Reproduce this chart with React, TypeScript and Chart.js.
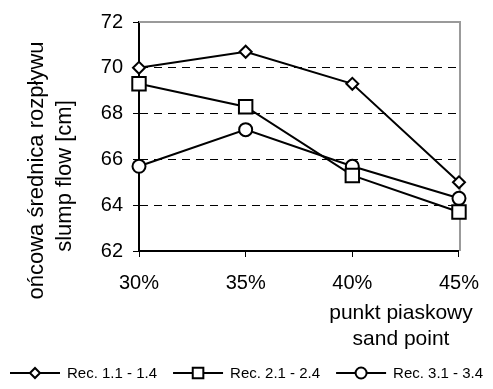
import React, { useEffect, useRef } from "react";
import { Chart, registerables } from "chart.js";

Chart.register(...registerables);

const categories = ["30%", "35%", "40%", "45%"];
const seriesNames = ["Rec. 1.1 - 1.4", "Rec. 2.1 - 2.4", "Rec. 3.1 - 3.4"];
const rec1 = [70.0, 70.7, 69.3, 65.0];
const rec2 = [69.3, 68.3, 65.3, 63.7];
const rec3 = [65.7, 67.3, 65.7, 64.3];
const yTicks = [62, 64, 66, 68, 70, 72];
const yTitle = ["końcowa średnica rozpływu", "slump flow [cm]"];
const xTitle = ["punkt piaskowy", "sand point"];

const FONT = "'Liberation Sans', Arial, sans-serif";

function drawMarker(ctx: CanvasRenderingContext2D, style: string, r: number, x: number, y: number) {
  ctx.beginPath();
  if (style === "rectRot") {
    ctx.moveTo(x - r, y);
    ctx.lineTo(x, y - r);
    ctx.lineTo(x + r, y);
    ctx.lineTo(x, y + r);
    ctx.closePath();
  } else if (style === "rect") {
    const s = r * Math.SQRT1_2;
    ctx.rect(x - s, y - s, 2 * s, 2 * s);
  } else {
    ctx.arc(x, y, r, 0, Math.PI * 2);
  }
  ctx.fill();
  ctx.stroke();
}

const decorPlugin = {
  id: "decor",
  beforeDatasetsDraw(chart: any) {
    const { ctx, chartArea } = chart;
    ctx.save();
    ctx.strokeStyle = "#9a9a9a";
    ctx.lineWidth = 2;
    ctx.beginPath();
    ctx.moveTo(chartArea.left, chartArea.top);
    ctx.lineTo(chartArea.right + 1, chartArea.top);
    ctx.lineTo(chartArea.right + 1, chartArea.bottom);
    ctx.stroke();
    ctx.restore();
  },
  afterDraw(chart: any) {
    const { ctx } = chart;
    // y title
    ctx.save();
    ctx.beginPath();
    ctx.rect(0, 0, 120, 299);
    ctx.clip();
    ctx.fillStyle = "#000";
    ctx.font = `22px ${FONT}`;
    ctx.textAlign = "center";
    ctx.textBaseline = "alphabetic";
    ctx.translate(43, 176);
    ctx.rotate(-Math.PI / 2);
    ctx.fillText(yTitle[0], 0, 0);
    ctx.fillText(yTitle[1], 0, 28);
    ctx.restore();

    // x title
    ctx.save();
    ctx.fillStyle = "#000";
    ctx.font = `21px ${FONT}`;
    ctx.textAlign = "center";
    ctx.textBaseline = "alphabetic";
    ctx.fillText(xTitle[0], 401, 319);
    ctx.fillText(xTitle[1], 401, 345);
    ctx.restore();

    // legend
    ctx.save();
    ctx.font = `15px ${FONT}`;
    ctx.textBaseline = "middle";
    ctx.textAlign = "left";
    const ly = 373;
    let x0 = 10;
    const styles = ["rectRot", "rect", "circle"];
    const radii = [5, 7.5, 5.5];
    chart.data.datasets.forEach((ds: any, i: number) => {
      ctx.strokeStyle = "#000";
      ctx.lineWidth = 2;
      ctx.beginPath();
      ctx.moveTo(x0, ly);
      ctx.lineTo(x0 + 50, ly);
      ctx.stroke();
      ctx.fillStyle = "#fff";
      drawMarker(ctx, styles[i], radii[i], x0 + 25, ly);
      ctx.fillStyle = "#000";
      ctx.fillText(ds.label, x0 + 57, ly + 1);
      const w = ctx.measureText(ds.label).width;
      x0 = x0 + 57 + w + 16;
    });
    ctx.restore();
  },
};

export default function App() {
  const ref = useRef<HTMLCanvasElement | null>(null);
  useEffect(() => {
    if (!ref.current) return;
    const common = {
      borderColor: "#000",
      borderWidth: 2,
      pointBackgroundColor: "#fff",
      pointBorderColor: "#000",
      pointBorderWidth: 2,
      tension: 0,
      fill: false,
      clip: false as any,
    };
    const chart = new Chart(ref.current, {
      type: "line",
      data: {
        labels: categories,
        datasets: [
          { ...common, label: seriesNames[0], data: rec1, pointStyle: "rectRot", pointRadius: 6 },
          { ...common, label: seriesNames[1], data: rec2, pointStyle: "rect", pointRadius: 9.5 },
          { ...common, label: seriesNames[2], data: rec3, pointStyle: "circle", pointRadius: 6.5 },
        ],
      },
      options: {
        animation: false,
        responsive: false,
        layout: { padding: { top: 20, right: 22, left: 0, bottom: 0 } },
        plugins: { legend: { display: false }, tooltip: { enabled: false }, title: { display: false } },
        scales: {
          x: {
            type: "category",
            offset: false,
            afterFit: (s: any) => { s.height = 138; },
            grid: { drawOnChartArea: false, drawTicks: true, tickLength: 6, tickColor: "#000", tickWidth: 1 },
            border: { display: true, color: "#000", width: 2 },
            ticks: { color: "#000", font: { family: FONT, size: 20 }, padding: 14, maxRotation: 0, autoSkip: false },
          },
          y: {
            min: yTicks[0],
            max: yTicks[yTicks.length - 1],
            afterFit: (s: any) => { s.width = 139; },
            afterBuildTicks: (s: any) => { s.ticks = yTicks.map((v) => ({ value: v })); },
            grid: {
              color: (c: any) => (c.tick && (c.tick.value === 62 || c.tick.value === 72) ? "rgba(0,0,0,0)" : "#000"),
              lineWidth: 1,
              drawTicks: true,
              tickLength: 6,
              tickColor: "#000",
              tickWidth: 1,
              tickBorderDash: [],
            } as any,
            border: { display: true, color: "#000", width: 2, dash: [8, 6] },
            ticks: { color: "#000", font: { family: FONT, size: 20 }, padding: 10 },
          },
        },
      },
      plugins: [decorPlugin],
    });
    return () => chart.destroy();
  }, []);
  return (
    <div style={{ position: "fixed", left: 0, top: 0, width: 493, height: 389, background: "#fff" }}>
      <canvas ref={ref} width={493} height={389} style={{ display: "block" }} />
    </div>
  );
}
